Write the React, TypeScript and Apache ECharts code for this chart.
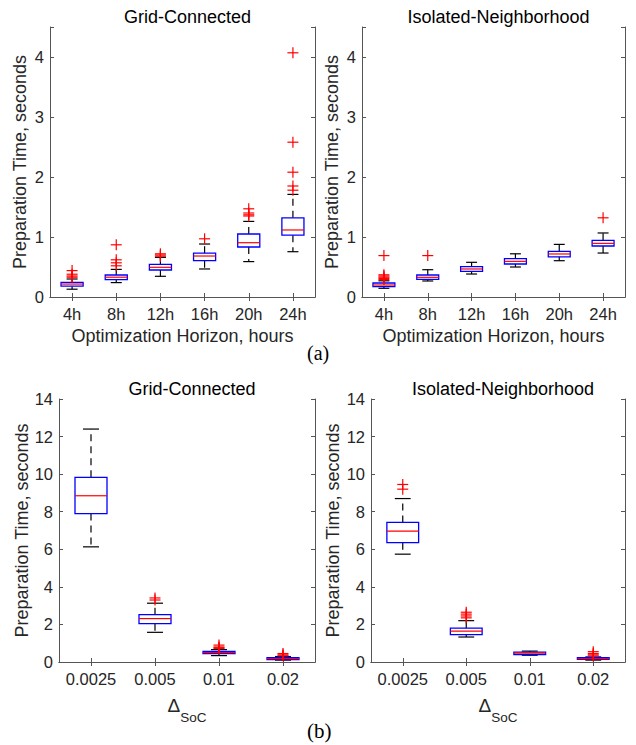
import React, { useEffect, useRef } from "react";
import * as echarts from "echarts";

const horizonCats = ["4h", "8h", "12h", "16h", "20h", "24h"];
const socCats = ["0.0025", "0.005", "0.01", "0.02"];

// [lower whisker, q1, median, q3, upper whisker]
const gridHorizonBoxes = [
  [0.13, 0.18, 0.216, 0.245, 0.3],
  [0.24, 0.29, 0.33, 0.367, 0.46],
  [0.345, 0.45, 0.495, 0.545, 0.66],
  [0.467, 0.605, 0.683, 0.73, 0.883],
  [0.59, 0.833, 0.905, 1.05, 1.26],
  [0.755, 1.03, 1.117, 1.32, 1.71],
];
const gridHorizonOutliers = [
  [0, 0.44], [0, 0.38], [0, 0.35], [0, 0.33],
  [1, 0.87], [1, 0.62], [1, 0.57], [1, 0.52],
  [2, 0.72], [2, 0.7], [2, 0.68],
  [3, 0.97],
  [4, 1.47], [4, 1.4], [4, 1.37], [4, 1.35],
  [5, 1.78], [5, 1.85], [5, 2.08], [5, 2.58], [5, 4.07],
];

const isoHorizonBoxes = [
  [0.145, 0.172, 0.2, 0.233, 0.27],
  [0.267, 0.294, 0.328, 0.367, 0.455],
  [0.383, 0.428, 0.467, 0.506, 0.578],
  [0.5, 0.55, 0.594, 0.64, 0.72],
  [0.605, 0.67, 0.717, 0.76, 0.877],
  [0.733, 0.85, 0.894, 0.944, 1.067],
];
const isoHorizonOutliers = [
  [0, 0.69], [0, 0.37], [0, 0.35], [0, 0.33], [0, 0.31], [0, 0.29],
  [1, 0.69],
  [5, 1.32],
];

const gridSocBoxes = [
  [6.13, 7.9, 8.85, 9.83, 12.4],
  [1.58, 2.04, 2.31, 2.52, 3.13],
  [0.34, 0.45, 0.5, 0.57, 0.66],
  [0.1, 0.13, 0.18, 0.23, 0.29],
];
const gridSocOutliers = [
  [1, 3.41], [1, 3.3],
  [2, 0.72], [2, 0.76], [2, 0.8], [2, 0.9],
  [3, 0.33], [3, 0.38], [3, 0.45],
];

const isoSocBoxes = [
  [5.74, 6.35, 6.97, 7.43, 8.7],
  [1.33, 1.46, 1.64, 1.8, 2.2],
  [0.36, 0.39, 0.47, 0.53, 0.58],
  [0.1, 0.14, 0.18, 0.23, 0.27],
];
const isoSocOutliers = [
  [0, 9.2], [0, 9.45],
  [1, 2.35], [1, 2.45], [1, 2.55], [1, 2.65],
  [3, 0.32], [3, 0.38], [3, 0.45], [3, 0.55],
];

const FONT = "'Liberation Sans', Arial, Helvetica, sans-serif";
const AXIS_COLOR = "#555";
const TEXT_COLOR = "#262626";

function boxRender(params: any, api: any) {
  const x = api.value(0);
  const lo = api.coord([x, api.value(1)]);
  const q1 = api.coord([x, api.value(2)]);
  const md = api.coord([x, api.value(3)]);
  const q3 = api.coord([x, api.value(4)]);
  const hi = api.coord([x, api.value(5)]);
  const band = api.size([1, 0])[0];
  const bw = band * 0.5;
  const cw = bw * 0.5;
  const cx = lo[0];
  const wStyle = { stroke: "#000", lineWidth: 1.2, lineDash: [7, 5] };
  const cStyle = { stroke: "#000", lineWidth: 1.2 };
  return {
    type: "group",
    children: [
      { type: "line", shape: { x1: cx, y1: q3[1], x2: cx, y2: hi[1] }, style: wStyle },
      { type: "line", shape: { x1: cx, y1: q1[1], x2: cx, y2: lo[1] }, style: wStyle },
      { type: "line", shape: { x1: cx - cw / 2, y1: hi[1], x2: cx + cw / 2, y2: hi[1] }, style: cStyle },
      { type: "line", shape: { x1: cx - cw / 2, y1: lo[1], x2: cx + cw / 2, y2: lo[1] }, style: cStyle },
      {
        type: "rect",
        shape: { x: cx - bw / 2, y: q3[1], width: bw, height: q1[1] - q3[1] },
        style: { fill: "none", stroke: "#0000ff", lineWidth: 1.3 },
      },
      {
        type: "line",
        shape: { x1: cx - bw / 2, y1: md[1], x2: cx + bw / 2, y2: md[1] },
        style: { stroke: "#ff0000", lineWidth: 1.2 },
      },
    ],
  };
}

function plusRender(params: any, api: any) {
  const p = api.coord([api.value(0), api.value(1)]);
  const s = 5.5;
  const st = { stroke: "#ff0000", lineWidth: 1.2 };
  return {
    type: "group",
    children: [
      { type: "line", shape: { x1: p[0] - s, y1: p[1], x2: p[0] + s, y2: p[1] }, style: st },
      { type: "line", shape: { x1: p[0], y1: p[1] - s, x2: p[0], y2: p[1] + s }, style: st },
    ],
  };
}

const panels = [
  {
    grid: { left: 50, top: 27, width: 265, height: 270 },
    cats: horizonCats, boxes: gridHorizonBoxes, outliers: gridHorizonOutliers,
    title: "Grid-Connected", yMax: 4.5, yInterval: 1,
    xName: "Optimization Horizon, hours", yNameGap: 21, soc: false,
  },
  {
    grid: { left: 362, top: 27, width: 263, height: 270 },
    cats: horizonCats, boxes: isoHorizonBoxes, outliers: isoHorizonOutliers,
    title: "Isolated-Neighborhood", yMax: 4.5, yInterval: 1,
    xName: "Optimization Horizon, hours", yNameGap: 21, soc: false,
  },
  {
    grid: { left: 59, top: 399, width: 256, height: 263 },
    cats: socCats, boxes: gridSocBoxes, outliers: gridSocOutliers,
    title: "Grid-Connected", yMax: 14, yInterval: 2,
    xName: "{d|Δ}{s|SoC}", yNameGap: 28, soc: true,
  },
  {
    grid: { left: 371, top: 399, width: 254, height: 263 },
    cats: socCats, boxes: isoSocBoxes, outliers: isoSocOutliers,
    title: "Isolated-Neighborhood", yMax: 14, yInterval: 2,
    xName: "{d|Δ}{s|SoC}", yNameGap: 29, soc: true,
  },
];

export default function App() {
  const ref = useRef<HTMLDivElement>(null);
  useEffect(() => {
    document.body.style.margin = "0";
    const chart = echarts.init(ref.current!, null, { renderer: "svg" });
    const grids: any[] = [];
    const xAxes: any[] = [];
    const yAxes: any[] = [];
    const series: any[] = [];
    const titles: any[] = [];
    panels.forEach((p, i) => {
      grids.push({ ...p.grid, containLabel: false });
      const cx = p.grid.left + p.grid.width / 2;
      titles.push({
        text: p.title,
        left: cx,
        top: p.soc ? 375 : 3,
        textAlign: "center",
        textStyle: { fontFamily: FONT, fontSize: 18, fontWeight: "normal", color: "#000" },
      });
      const lineStyle = { color: AXIS_COLOR, width: 1 };
      xAxes.push({
        gridIndex: i,
        type: "category",
        data: p.cats,
        position: "bottom",
        boundaryGap: true,
        axisLine: { show: true, lineStyle },
        axisTick: { show: true, inside: true, alignWithLabel: true, length: 4, lineStyle },
        axisLabel: { fontFamily: FONT, fontSize: 16.5, color: TEXT_COLOR, margin: 8, interval: 0, hideOverlap: false },
        splitLine: { show: false },
        name: p.xName,
        nameLocation: "middle",
        nameGap: p.soc ? 34 : 30,
        nameTextStyle: p.soc
          ? {
              fontFamily: FONT,
              color: TEXT_COLOR,
              rich: {
                d: { fontFamily: FONT, fontSize: 19, color: TEXT_COLOR, verticalAlign: "top", lineHeight: 28 },
                s: { fontFamily: FONT, fontSize: 13.5, color: TEXT_COLOR, verticalAlign: "bottom", lineHeight: 28 },
              },
            }
          : { fontFamily: FONT, fontSize: 18, color: TEXT_COLOR },
      });
      xAxes.push({
        gridIndex: i,
        type: "category",
        data: p.cats,
        position: "top",
        boundaryGap: true,
        axisLine: { show: true, lineStyle },
        axisTick: { show: true, inside: true, alignWithLabel: true, length: 4, lineStyle, interval: 0 },
        axisLabel: { show: false, interval: 0 },
        splitLine: { show: false },
      });
      yAxes.push({
        gridIndex: i,
        type: "value",
        min: 0,
        max: p.yMax,
        interval: p.yInterval,
        position: "left",
        axisLine: { show: true, lineStyle },
        axisTick: { show: true, inside: true, length: 4, lineStyle },
        axisLabel: {
          fontFamily: FONT,
          fontSize: 16.5,
          color: TEXT_COLOR,
          margin: 6,
          formatter: (v: number) => (Number.isInteger(v) ? String(v) : ""),
        },
        splitLine: { show: false },
        name: "Preparation Time, seconds",
        nameLocation: "middle",
        nameGap: p.yNameGap,
        nameTextStyle: { fontFamily: FONT, fontSize: 18, color: TEXT_COLOR },
      });
      yAxes.push({
        gridIndex: i,
        type: "value",
        min: 0,
        max: p.yMax,
        interval: p.yInterval,
        position: "right",
        axisLine: { show: true, lineStyle },
        axisTick: { show: true, inside: true, length: 4, lineStyle },
        axisLabel: { show: false },
        splitLine: { show: false },
      });
      series.push({
        type: "custom",
        xAxisIndex: 2 * i,
        yAxisIndex: 2 * i,
        renderItem: boxRender,
        encode: { x: 0, y: [1, 2, 3, 4, 5] },
        data: p.boxes.map((b, k) => [k, ...b]),
        silent: true,
      });
      series.push({
        type: "custom",
        xAxisIndex: 2 * i,
        yAxisIndex: 2 * i,
        renderItem: plusRender,
        encode: { x: 0, y: 1 },
        data: p.outliers,
        silent: true,
        z: 3,
      });
    });
    chart.setOption({
      animation: false,
      backgroundColor: "#fff",
      title: titles,
      grid: grids,
      xAxis: xAxes,
      yAxis: yAxes,
      series,
      graphic: [
        {
          type: "text",
          left: 307,
          top: 343,
          style: { text: "(a)", fontFamily: "'Liberation Serif', 'Times New Roman', serif", fontSize: 20, fill: "#000" },
        },
        {
          type: "text",
          left: 307,
          top: 720,
          style: { text: "(b)", fontFamily: "'Liberation Serif', 'Times New Roman', serif", fontSize: 21, fill: "#000" },
        },
      ],
    });
    return () => chart.dispose();
  }, []);
  return <div ref={ref} style={{ width: 636, height: 745 }} />;
}
